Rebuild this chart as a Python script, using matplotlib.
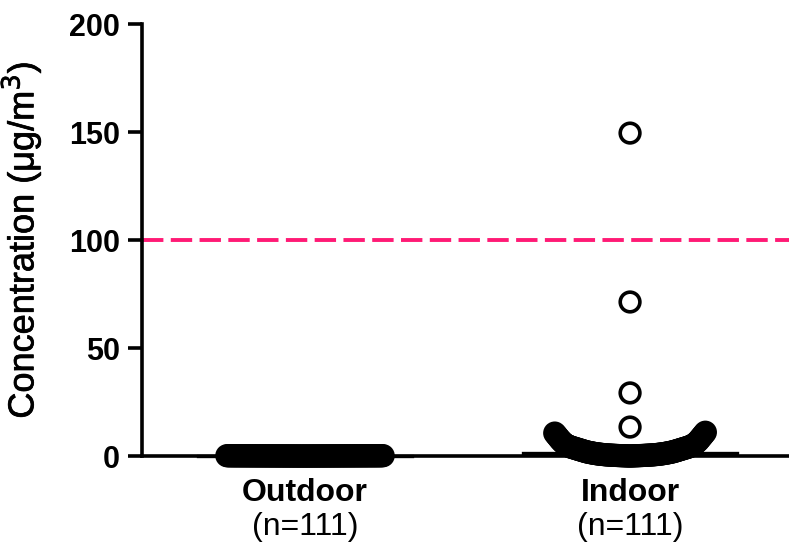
import numpy as np
import matplotlib
matplotlib.use("Agg")
import matplotlib.pyplot as plt
import matplotlib.patheffects as pe
from matplotlib.transforms import blended_transform_factory

plt.rcParams['font.family'] = ['Liberation Sans', 'DejaVu Sans']

categories = ["Outdoor", "Indoor"]
n_labels = ["(n=111)", "(n=111)"]

outdoor = [
    0.0, 0.0, 0.0, 0.0, 0.0, 0.0, 0.0, 0.0, 0.0, 0.0,
    0.01, 0.01, 0.01, 0.01, 0.01, 0.01, 0.01, 0.01, 0.01, 0.01,
    0.02, 0.02, 0.02, 0.02, 0.02, 0.02, 0.02, 0.02, 0.02, 0.02,
    0.03, 0.03, 0.03, 0.03, 0.03, 0.03, 0.03, 0.03, 0.03, 0.03,
    0.04, 0.04, 0.04, 0.04, 0.04, 0.04, 0.04, 0.04, 0.04, 0.04,
    0.05, 0.05, 0.05, 0.05, 0.05, 0.05, 0.05, 0.05, 0.05, 0.05,
    0.06, 0.06, 0.06, 0.06, 0.06, 0.06, 0.06, 0.06, 0.06, 0.06,
    0.07, 0.07, 0.07, 0.07, 0.07, 0.07, 0.07, 0.07, 0.07, 0.07,
    0.08, 0.08, 0.08, 0.08, 0.08, 0.08, 0.08, 0.08, 0.08, 0.08,
    0.09, 0.09, 0.09, 0.09, 0.09, 0.09, 0.09, 0.09, 0.09, 0.09,
    0.1, 0.1, 0.1, 0.1, 0.1, 0.11, 0.11, 0.12, 0.12, 0.13, 0.14,
]

indoor = [
    0.0, 0.02, 0.03, 0.05, 0.06, 0.08, 0.09, 0.1, 0.11, 0.12, 0.13,
    0.15, 0.16, 0.18, 0.19, 0.2, 0.22, 0.24, 0.25, 0.27, 0.29,
    0.3, 0.32, 0.34, 0.36, 0.38, 0.4,
    0.42, 0.44, 0.46, 0.48, 0.5, 0.53, 0.56, 0.59, 0.62, 0.65, 0.68, 0.71, 0.75, 0.79,
    0.83, 0.87, 0.91, 0.95, 1.0, 1.05, 1.1, 1.15, 1.2, 1.26, 1.32, 1.38, 1.44, 1.5,
    1.57, 1.64, 1.71, 1.78, 1.85, 1.92, 2.0, 2.1, 2.2, 2.3, 2.4, 2.5, 2.6, 2.7, 2.8, 2.9,
    3.0, 3.1, 3.2, 3.3, 3.4, 3.5, 3.6, 3.7, 3.8, 3.9, 4.0, 4.1, 4.2, 4.35, 4.5, 4.65,
    4.8, 4.95, 5.1, 5.3,
    5.5, 5.8, 6.1, 6.4, 6.7, 7.0, 7.4, 7.8, 8.2, 8.6, 9.0, 9.4, 9.8, 10.2, 10.6, 11.0,
    13.4, 29.2, 71.3, 149.5,
]

threshold = 100
yticks = [0, 50, 100, 150, 200]

fig = plt.figure(figsize=(7.89, 5.5), dpi=100)
ax = fig.add_axes([142/789, 1-456/550, 1-142/789, (456-24)/550])

step = 0.00437      # horizontal spacing between neighbouring points (axis units)
outlier_cut = 12

def swarm_x(center, vals):
    vals = np.sort(np.asarray(vals, float))
    xs = np.empty_like(vals)
    k_idx = 0
    for i, v in enumerate(vals):
        if v > outlier_cut:
            xs[i] = center
            continue
        k = (k_idx + 1) // 2
        sign = -1 if k_idx % 2 == 1 else 1
        xs[i] = center + sign * k * step
        k_idx += 1
    return xs, vals

groups = [outdoor, indoor]
for i, g in enumerate(groups):
    pos = i + 1
    xs, vs = swarm_x(pos, g)
    ax.scatter(xs, vs, s=200, facecolors='none', edgecolors='black',
               linewidths=2.6, zorder=3, clip_on=False)
    med = np.median(g)
    ax.plot([pos - 0.33, pos + 0.33], [med, med], color='black', lw=2.4,
            zorder=2, clip_on=False)

ax.axhline(threshold, color='#ff1a75', lw=2.8, ls=(0, (5.5, 1.9)), zorder=1)

ax.set_xlim(0.4985, 2.489)
ax.set_ylim(0, 200)
ax.set_yticks(yticks)
ax.set_yticklabels([str(t) for t in yticks], fontsize=22, fontweight='bold')
ax.set_xticks([])

for s in ['top', 'right']:
    ax.spines[s].set_visible(False)
for s in ['left', 'bottom']:
    ax.spines[s].set_linewidth(2.6)
ax.tick_params(axis='y', length=10, width=2.6, pad=6)

ax.set_ylabel("Concentration (μg/m$^3$)", fontsize=26,
              path_effects=[pe.withStroke(linewidth=0.5, foreground='black')])
ax.yaxis.set_label_coords(-0.152, 0.5)

trans = blended_transform_factory(ax.transData, fig.transFigure)
for i, (c, n) in enumerate(zip(categories, n_labels)):
    ax.text(i + 1, 1 - 493/550, c, transform=trans, ha='center', va='center',
            fontsize=23, fontweight='bold')
    ax.text(i + 1, 1 - 527/550, n, transform=trans, ha='center', va='center',
            fontsize=23)

fig.savefig("out.png", dpi=100)
